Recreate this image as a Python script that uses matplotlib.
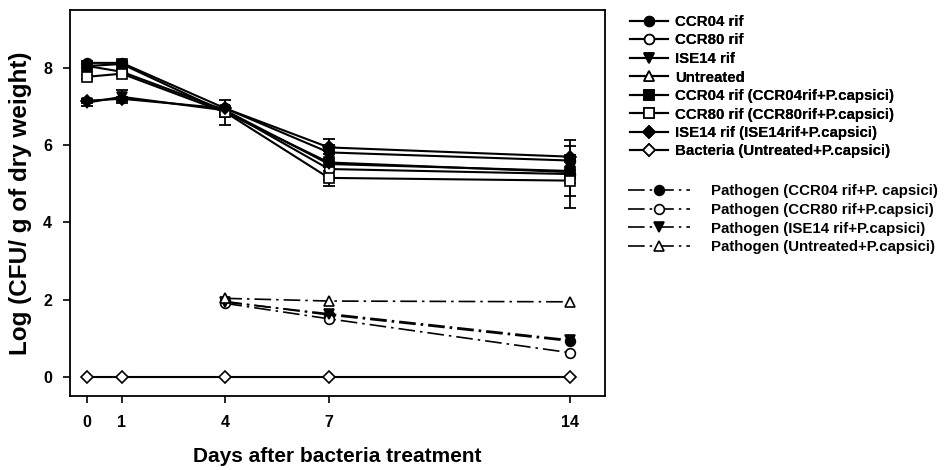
import matplotlib
matplotlib.use("Agg")
import matplotlib.pyplot as plt
import numpy as np

plt.rcParams['font.family'] = ['Liberation Sans', 'DejaVu Sans']
plt.rcParams['font.weight'] = 'bold'

days = [0, 1, 4, 7, 14]
path_days = [4, 7, 14]

# Bacteria populations (log CFU / g dry weight)
ccr04 = [8.13, 8.13, 6.95, 5.81, 5.60]
ccr80 = [8.05, 7.90, 6.90, 5.38, 5.25]
ise14 = [7.10, 7.25, 6.90, 5.51, 5.33]
untreated = [np.nan, np.nan, np.nan, np.nan, np.nan]
ccr04_pc = [8.05, 8.10, 6.85, 5.55, 5.30]
ccr80_pc = [7.77, 7.85, 6.85, 5.15, 5.08]
ise14_pc = [7.15, 7.20, 6.95, 5.94, 5.70]
bact_untr_pc = [0, 0, 0, 0, 0]

ccr04_err = [0.05, 0.05, 0.05, 0.05, 0.05]
ccr80_err = [0.05, 0.05, 0.05, 0.05, 0.87]
ise14_err = [0.08, 0.17, 0.05, 0.05, 0.65]
ccr04_pc_err = [0.05, 0.05, 0.33, 0.60, 0.05]
ccr80_pc_err = [0.05, 0.05, 0.05, 0.05, 0.05]
ise14_pc_err = [0.05, 0.05, 0.05, 0.05, 0.05]

# Pathogen populations
path_ccr04 = [1.95, 1.60, 0.92]
path_ccr80 = [1.90, 1.50, 0.62]
path_ise14 = [1.93, 1.63, 0.95]
path_untr = [2.03, 1.96, 1.94]

bact_labels = ["CCR04 rif", "CCR80 rif", "ISE14 rif", "Untreated",
               "CCR04 rif (CCR04rif+P.capsici)", "CCR80 rif (CCR80rif+P.capsici)",
               "ISE14 rif (ISE14rif+P.capsici)", "Bacteria (Untreated+P.capsici)"]
path_labels = ["Pathogen (CCR04 rif+P. capsici)", "Pathogen (CCR80 rif+P.capsici)",
               "Pathogen (ISE14 rif+P.capsici)", "Pathogen (Untreated+P.capsici)"]
xticks = [0, 1, 4, 7, 14]
yticks = [0, 2, 4, 6, 8]

fig = plt.figure(figsize=(9.47, 4.70), dpi=100)
ax = fig.add_axes([70/947, 1-396/470, 535/947, 386/470])

bact_series = [
    (ccr04, ccr04_err, 'o', 'black', 7),
    (ccr80, ccr80_err, 'o', 'white', 7),
    (ise14, ise14_err, 'v', 'black', 7.5),
    (untreated, None, '^', 'white', 7.5),
    (ccr04_pc, ccr04_pc_err, 's', 'black', 6.5),
    (ccr80_pc, ccr80_pc_err, 's', 'white', 6.5),
    (ise14_pc, ise14_pc_err, 'D', 'black', 6.5),
    (bact_untr_pc, None, 'D', 'white', 6.5),
]
bact_handles = []
for (vals, err, mk, fc, ms), lab in zip(bact_series, bact_labels):
    if err is not None:
        ax.errorbar(days, vals, yerr=err, fmt='none', ecolor='black',
                    elinewidth=1.3, capsize=4, capthick=1.3, zorder=2)
    h, = ax.plot(days, vals, '-', color='black', lw=1.5, marker=mk,
                 mfc=fc, mec='black', mew=1.2, ms=ms, label=lab, zorder=3)
    bact_handles.append(h)

path_series = [
    (path_ccr04, 'o', 'black', 7),
    (path_ccr80, 'o', 'white', 7),
    (path_ise14, 'v', 'black', 7.5),
    (path_untr, '^', 'white', 7.5),
]
path_handles = []
for (vals, mk, fc, ms), lab in zip(path_series, path_labels):
    h, = ax.plot(path_days, vals, color='black', lw=1.2, dashes=(10, 3, 1.5, 3),
                 marker=mk, mfc=fc, mec='black', mew=1.2, ms=ms, label=lab, zorder=3)
    path_handles.append(h)

ax.set_xlim(-0.5, 15)
ax.set_ylim(-0.5, 9.5)
ax.set_xticks(xticks)
ax.set_yticks(yticks)
ax.tick_params(direction='out', length=5, width=1.2, labelsize=11.5)
ax.tick_params(axis='x', pad=9)
ax.tick_params(axis='y', pad=8)
for s in ax.spines.values():
    s.set_linewidth(1.3)
for lbl in ax.get_xticklabels() + ax.get_yticklabels():
    lbl.set_fontweight('bold')

ax.set_xlabel("Days after bacteria treatment", fontsize=15, fontweight='bold', labelpad=12)
ax.set_ylabel("Log (CFU/ g of dry weight)", fontsize=17.5, fontweight='bold', labelpad=8)

leg1 = fig.legend(handles=bact_handles, loc='upper left',
                  bbox_to_anchor=(630/947, 1-15/470), frameon=False,
                  prop={'size': 10.8, 'weight': 'bold'}, handlelength=2.5,
                  handletextpad=0.5, labelspacing=0.3, borderpad=0, borderaxespad=0)
leg2 = fig.legend(handles=path_handles, loc='upper left',
                  bbox_to_anchor=(628/947, 1-184/470), frameon=False,
                  prop={'size': 10.8, 'weight': 'bold'}, handlelength=4.1,
                  handletextpad=1.4, labelspacing=0.32, borderpad=0, borderaxespad=0)
fig.add_artist(leg1)

fig.savefig("out.png", dpi=100)
